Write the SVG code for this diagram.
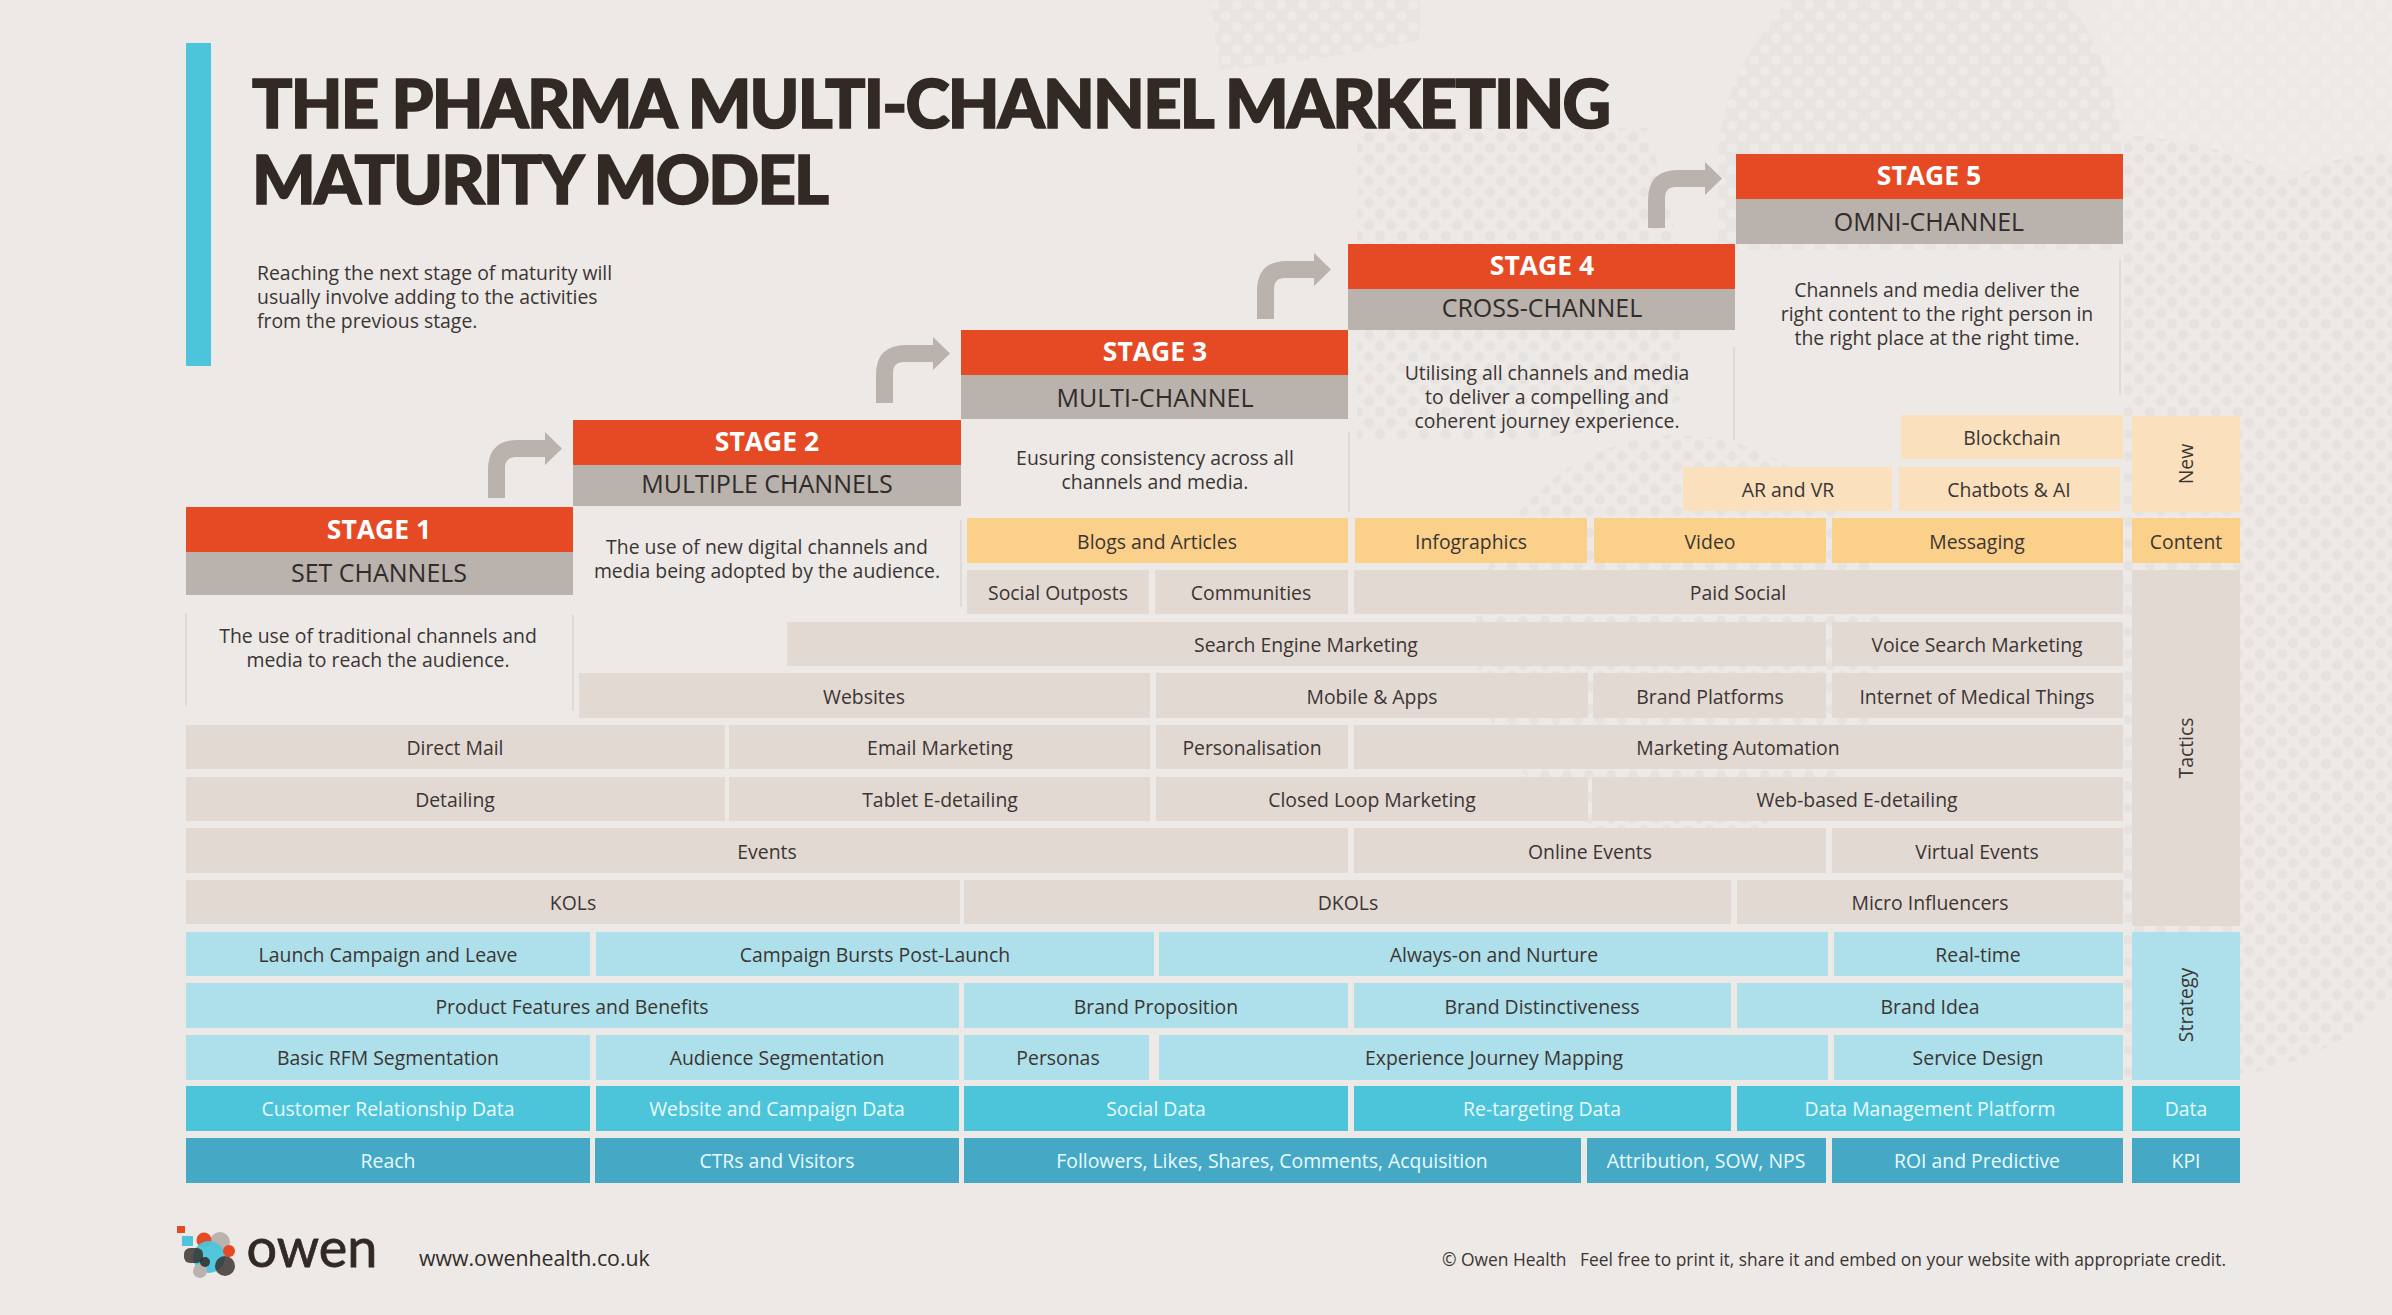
<svg xmlns="http://www.w3.org/2000/svg" width="2392" height="1315" viewBox="0 0 2392 1315">
<style>
text{font-family:"Open Sans","Liberation Sans",sans-serif;text-anchor:middle;fill:#3b3533;font-size:19.4px}
.w{fill:#e9fbff}
.t{fill:#e3d9d3}.p{fill:#fae0bd}.c{fill:#fbd08a}.l{fill:#ade0ea}.d{fill:#4cc4da}.k{fill:#45a9c6}
.r{fill:#e54a24}.g{fill:#b9b2ad}
.sn{font-weight:700;font-size:26.5px;fill:#fff}.ss{font-size:25px;fill:#322c29}
.ttl{font-family:"Lato","Liberation Sans",sans-serif;font-weight:900;font-size:67px;fill:#322924;stroke:#322924;stroke-width:1.6px;text-anchor:start;letter-spacing:-1.8px}
.ln{stroke:#dad5d1;stroke-width:1.5;fill:none}
.arrow{fill:#b9b2ad}
.i{text-anchor:start}
</style>
<defs>
<pattern id="dots" width="22" height="22" patternUnits="userSpaceOnUse"><circle cx="5" cy="5" r="5" fill="#e6e2df"/><circle cx="16" cy="16" r="5" fill="#e6e2df"/></pattern>
<pattern id="soft" width="22" height="22" patternUnits="userSpaceOnUse"><rect width="22" height="22" fill="#e8e4e1"/><circle cx="5" cy="5" r="5" fill="#edeae7"/><circle cx="16" cy="16" r="5" fill="#edeae7"/></pattern>
<pattern id="faint" width="22" height="22" patternUnits="userSpaceOnUse"><circle cx="5" cy="5" r="5" fill="#efecea"/><circle cx="16" cy="16" r="5" fill="#efecea"/></pattern>
<path id="ar" d="M0 58V30Q0 0 30 0H57V-8L74 8.500 57 25V17H28Q17 17 17 28V58Z"/>
</defs>
<rect width="2392" height="1315" fill="#ede9e6"/>
<g id="texture">
<path d="M2100 0H2392V170L2124 170H2100Z" fill="url(#faint)"/>
<path d="M1210 0H1420V40Q1330 60 1220 70Z" fill="url(#soft)"/>
<path d="M1788 0H2066Q2122 70 2122 170V250H1718V150Q1725 70 1788 0Z" fill="url(#soft)"/>
<path d="M1357 128H1648L1680 250V400Q1600 440 1500 440H1357Z" fill="url(#dots)"/>
<circle cx="1680" cy="640" r="205" fill="url(#dots)"/>
<path d="M2124 135Q2220 140 2290 180 2340 150 2392 155V1000Q2300 1090 2150 1077H2124Z" fill="url(#dots)"/>
<path d="M2240 620Q2320 560 2392 600V900Q2320 960 2240 920Z" fill="url(#dots)"/>
</g>
<rect id="accent-bar" x="186" y="43" width="25" height="323" fill="#4cc4da"/>
<g id="title">
<text class="ttl" x="252" y="128">THE PHARMA MULTI-CHANNEL MARKETING</text>
<text class="ttl" x="252" y="203.5">MATURITY MODEL</text>
</g>
<g id="intro">
<text class="i" x="257" y="280">Reaching the next stage of maturity will</text>
<text class="i" x="257" y="304">usually involve adding to the activities</text>
<text class="i" x="257" y="328">from the previous stage.</text>
</g>
<g id="connectors" class="arrow">
<use href="#ar" x="488" y="440"/>
<use href="#ar" x="876" y="345"/>
<use href="#ar" x="1257" y="261"/>
<use href="#ar" x="1648" y="170"/>
</g>
<g id="stage-1">
<rect class="r" x="186" y="507" width="387" height="45"/><rect class="g" x="186" y="552" width="387" height="43"/>
<text class="sn" x="379" y="539">STAGE 1</text><text class="ss" x="379" y="582">SET CHANNELS</text>
<path class="ln" d="M186 613V706M573 615V711"/>
<text x="378" y="643">The use of traditional channels and</text><text x="378" y="667">media to reach the audience.</text>
</g>
<g id="stage-2">
<rect class="r" x="573" y="420" width="388" height="45"/><rect class="g" x="573" y="465" width="388" height="41"/>
<text class="sn" x="767" y="451">STAGE 2</text><text class="ss" x="767" y="493">MULTIPLE CHANNELS</text>
<path class="ln" d="M961 520V607"/>
<text x="767" y="554">The use of new digital channels and</text><text x="767" y="578">media being adopted by the audience.</text>
</g>
<g id="stage-3">
<rect class="r" x="961" y="330" width="387" height="45"/><rect class="g" x="961" y="375" width="387" height="44"/>
<text class="sn" x="1155" y="361">STAGE 3</text><text class="ss" x="1155" y="407">MULTI-CHANNEL</text>
<path class="ln" d="M1349 432V512"/>
<text x="1155" y="465">Eusuring consistency across all</text><text x="1155" y="489">channels and media.</text>
</g>
<g id="stage-4">
<rect class="r" x="1348" y="244" width="387" height="45"/><rect class="g" x="1348" y="289" width="387" height="41"/>
<text class="sn" x="1542" y="275">STAGE 4</text><text class="ss" x="1542" y="317">CROSS-CHANNEL</text>
<path class="ln" d="M1734 347V440"/>
<text x="1547" y="380">Utilising all channels and media</text><text x="1547" y="404">to deliver a compelling and</text><text x="1547" y="428">coherent journey experience.</text>
</g>
<g id="stage-5">
<rect class="r" x="1736" y="154" width="387" height="45"/><rect class="g" x="1736" y="199" width="387" height="45"/>
<text class="sn" x="1929" y="185">STAGE 5</text><text class="ss" x="1929" y="231">OMNI-CHANNEL</text>
<path class="ln" d="M2120 260V395"/>
<text x="1937" y="297">Channels and media deliver the</text><text x="1937" y="321">right content to the right person in</text><text x="1937" y="345">the right place at the right time.</text>
</g>
<g id="new-row">
<g id="n-blockchain"><rect class="p" x="1901" y="415" width="222" height="44"/><text x="2012" y="444.500">Blockchain</text></g>
<g id="n-ar"><rect class="p" x="1683" y="467" width="209" height="44"/><text x="1788" y="496.500">AR and VR</text></g>
<g id="n-chatbots"><rect class="p" x="1899" y="467" width="221" height="44"/><text x="2009" y="496.500">Chatbots &amp; AI</text></g>
</g>
<g id="content-row">
<g id="c1"><rect class="c" x="967" y="518" width="381" height="45"/><text x="1157" y="548.500">Blogs and Articles</text></g>
<g id="c2"><rect class="c" x="1355" y="518" width="232" height="45"/><text x="1471" y="548.500">Infographics</text></g>
<g id="c3"><rect class="c" x="1594" y="518" width="232" height="45"/><text x="1710" y="548.500">Video</text></g>
<g id="c4"><rect class="c" x="1832" y="518" width="291" height="45"/><text x="1977" y="548.500">Messaging</text></g>
</g>
<g id="tactics">
<g id="t1"><rect class="t" x="967" y="570" width="182" height="44"/><text x="1058" y="599.500">Social Outposts</text></g>
<g id="t2"><rect class="t" x="1155" y="570" width="193" height="44"/><text x="1251" y="599.500">Communities</text></g>
<g id="t3"><rect class="t" x="1354" y="570" width="769" height="44"/><text x="1738" y="599.500">Paid Social</text></g>
<g id="t4"><rect class="t" x="787" y="622" width="1039" height="44"/><text x="1306" y="651.500">Search Engine Marketing</text></g>
<g id="t5"><rect class="t" x="1832" y="622" width="291" height="44"/><text x="1977" y="651.500">Voice Search Marketing</text></g>
<g id="t6"><rect class="t" x="579" y="673" width="571" height="45"/><text x="864" y="703.500">Websites</text></g>
<g id="t7"><rect class="t" x="1156" y="673" width="432" height="45"/><text x="1372" y="703.500">Mobile &amp; Apps</text></g>
<g id="t8"><rect class="t" x="1593" y="673" width="233" height="45"/><text x="1710" y="703.500">Brand Platforms</text></g>
<g id="t9"><rect class="t" x="1832" y="673" width="291" height="45"/><text x="1977" y="703.500">Internet of Medical Things</text></g>
<g id="t10"><rect class="t" x="186" y="725" width="539" height="44"/><text x="455" y="754.500">Direct Mail</text></g>
<g id="t11"><rect class="t" x="729" y="725" width="421" height="44"/><text x="940" y="754.500">Email Marketing</text></g>
<g id="t12"><rect class="t" x="1156" y="725" width="192" height="44"/><text x="1252" y="754.500">Personalisation</text></g>
<g id="t13"><rect class="t" x="1354" y="725" width="769" height="44"/><text x="1738" y="754.500">Marketing Automation</text></g>
<g id="t14"><rect class="t" x="186" y="777" width="539" height="44"/><text x="455" y="806.500">Detailing</text></g>
<g id="t15"><rect class="t" x="729" y="777" width="421" height="44"/><text x="940" y="806.500">Tablet E-detailing</text></g>
<g id="t16"><rect class="t" x="1156" y="777" width="432" height="44"/><text x="1372" y="806.500">Closed Loop Marketing</text></g>
<g id="t17"><rect class="t" x="1592" y="777" width="531" height="44"/><text x="1857" y="806.500">Web-based E-detailing</text></g>
<g id="t18"><rect class="t" x="186" y="828" width="1162" height="45"/><text x="767" y="858.500">Events</text></g>
<g id="t19"><rect class="t" x="1354" y="828" width="472" height="45"/><text x="1590" y="858.500">Online Events</text></g>
<g id="t20"><rect class="t" x="1832" y="828" width="291" height="45"/><text x="1977" y="858.500">Virtual Events</text></g>
<g id="t21"><rect class="t" x="186" y="880" width="774" height="44"/><text x="573" y="909.500">KOLs</text></g>
<g id="t22"><rect class="t" x="964" y="880" width="767" height="44"/><text x="1348" y="909.500">DKOLs</text></g>
<g id="t23"><rect class="t" x="1737" y="880" width="386" height="44"/><text x="1930" y="909.500">Micro Influencers</text></g>
</g>
<g id="strategy">
<g id="s1"><rect class="l" x="186" y="932" width="404" height="44"/><text x="388" y="961.500">Launch Campaign and Leave</text></g>
<g id="s2"><rect class="l" x="596" y="932" width="558" height="44"/><text x="875" y="961.500">Campaign Bursts Post-Launch</text></g>
<g id="s3"><rect class="l" x="1159" y="932" width="669" height="44"/><text x="1494" y="961.500">Always-on and Nurture</text></g>
<g id="s4"><rect class="l" x="1834" y="932" width="289" height="44"/><text x="1978" y="961.500">Real-time</text></g>
<g id="s5"><rect class="l" x="186" y="983" width="773" height="45"/><text x="572" y="1013.500">Product Features and Benefits</text></g>
<g id="s6"><rect class="l" x="964" y="983" width="384" height="45"/><text x="1156" y="1013.500">Brand Proposition</text></g>
<g id="s7"><rect class="l" x="1354" y="983" width="377" height="45"/><text x="1542" y="1013.500">Brand Distinctiveness</text></g>
<g id="s8"><rect class="l" x="1737" y="983" width="386" height="45"/><text x="1930" y="1013.500">Brand Idea</text></g>
<g id="s9"><rect class="l" x="186" y="1035" width="404" height="45"/><text x="388" y="1065">Basic RFM Segmentation</text></g>
<g id="s10"><rect class="l" x="596" y="1035" width="363" height="45"/><text x="777" y="1065">Audience Segmentation</text></g>
<g id="s11"><rect class="l" x="964" y="1035" width="185" height="45"/><text x="1058" y="1065">Personas</text></g>
<g id="s12"><rect class="l" x="1159" y="1035" width="669" height="45"/><text x="1494" y="1065">Experience Journey Mapping</text></g>
<g id="s13"><rect class="l" x="1834" y="1035" width="289" height="45"/><text x="1978" y="1065">Service Design</text></g>
</g>
<g id="data">
<g id="d1"><rect class="d" x="186" y="1086" width="404" height="45"/><text class="w" x="388" y="1116">Customer Relationship Data</text></g>
<g id="d2"><rect class="d" x="596" y="1086" width="363" height="45"/><text class="w" x="777" y="1116">Website and Campaign Data</text></g>
<g id="d3"><rect class="d" x="964" y="1086" width="384" height="45"/><text class="w" x="1156" y="1116">Social Data</text></g>
<g id="d4"><rect class="d" x="1354" y="1086" width="377" height="45"/><text class="w" x="1542" y="1116">Re-targeting Data</text></g>
<g id="d5"><rect class="d" x="1737" y="1086" width="386" height="45"/><text class="w" x="1930" y="1116">Data Management Platform</text></g>
</g>
<g id="kpi">
<g id="k1"><rect class="k" x="186" y="1138" width="404" height="45"/><text class="w" x="388" y="1168">Reach</text></g>
<g id="k2"><rect class="k" x="595" y="1138" width="364" height="45"/><text class="w" x="777" y="1168">CTRs and Visitors</text></g>
<g id="k3"><rect class="k" x="964" y="1138" width="617" height="45"/><text class="w" x="1272" y="1168">Followers, Likes, Shares, Comments, Acquisition</text></g>
<g id="k4"><rect class="k" x="1587" y="1138" width="239" height="45"/><text class="w" x="1706" y="1168">Attribution, SOW, NPS</text></g>
<g id="k5"><rect class="k" x="1832" y="1138" width="291" height="45"/><text class="w" x="1977" y="1168">ROI and Predictive</text></g>
</g>
<g id="legend">
<g id="l-new"><rect class="p" x="2132" y="416" width="108" height="96"/><text transform="translate(2193 464) rotate(-90)">New</text></g>
<g id="l-content"><rect class="c" x="2132" y="518" width="108" height="45"/><text x="2186" y="548.500">Content</text></g>
<g id="l-tactics"><rect class="t" x="2132" y="570" width="108" height="356"/><text transform="translate(2193 748) rotate(-90)">Tactics</text></g>
<g id="l-strategy"><rect class="l" x="2132" y="932" width="108" height="148"/><text transform="translate(2193 1005) rotate(-90)">Strategy</text></g>
<g id="l-data"><rect class="d" x="2132" y="1086" width="108" height="45"/><text class="w" x="2186" y="1116">Data</text></g>
<g id="l-kpi"><rect class="k" x="2132" y="1138" width="108" height="45"/><text class="w" x="2186" y="1168">KPI</text></g>
</g>
<g id="logo">
<rect x="177" y="1226" width="8" height="7" fill="#e54a24"/>
<rect x="182" y="1236" width="11" height="10" fill="#4cc4da"/>
<circle cx="220" cy="1242" r="10" fill="#b9b2ad"/>
<circle cx="204" cy="1240" r="7.500" fill="#e54a24"/>
<circle cx="209" cy="1257" r="16" fill="#4cc4da" fill-opacity=".95"/>
<circle cx="229" cy="1251" r="6" fill="#e54a24"/>
<rect x="184" y="1248" width="19" height="15" rx="6" fill="#322924" fill-opacity=".8"/>
<circle cx="225" cy="1266" r="10" fill="#322924" fill-opacity=".8"/>
<circle cx="200" cy="1271" r="7" fill="#b9b2ad"/>
<circle cx="205" cy="1262" r="5" fill="#322924" fill-opacity=".85"/>
<text x="312" y="1267" style="font-family:'Lato',sans-serif;font-size:54px;fill:#322924;stroke:#322924;stroke-width:.8px">owen</text>
</g>
<text id="site" x="419" y="1266" class="i" style="font-size:21.300px;fill:#322c29">www.owenhealth.co.uk</text>
<text id="credit" x="2226" y="1265.500" style="text-anchor:end;font-size:17.400px;white-space:pre">© Owen Health   Feel free to print it, share it and embed on your website with appropriate credit.</text>
</svg>
